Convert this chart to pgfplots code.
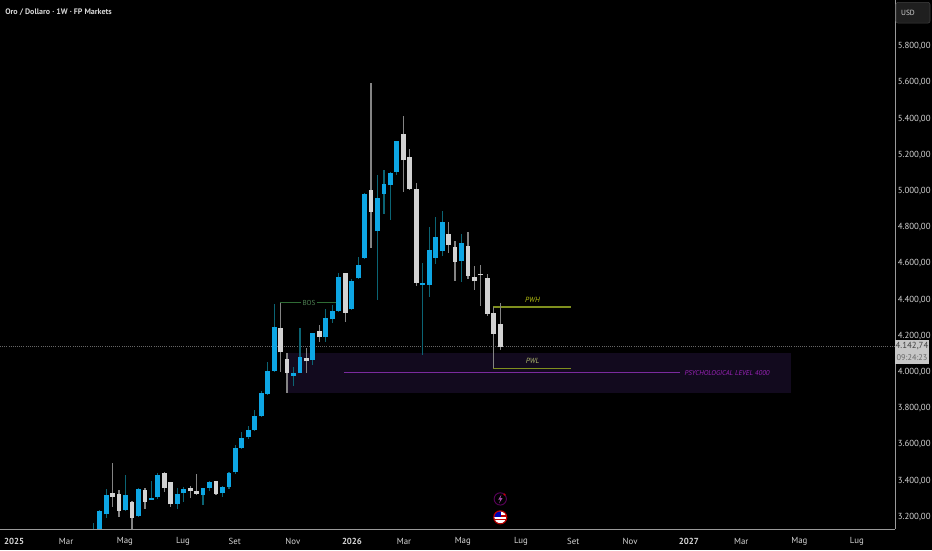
\documentclass[border=0pt]{standalone}
\usepackage{pgfplots}
\usepackage{pgfplotstable}
\usepackage{fontspec}
\setmainfont{PT Sans}
\pgfplotsset{compat=1.18}
\definecolor{candleblue}{HTML}{0DA6E4}
\definecolor{wickblue}{HTML}{0B6474}
\definecolor{candlewhite}{HTML}{D2D2D2}
\definecolor{wickwhite}{HTML}{848484}
\definecolor{boxpurple}{HTML}{120A1E}
\definecolor{linepurple}{HTML}{7A2A9E}
\definecolor{labelpurple}{HTML}{9A22B8}
\definecolor{olive}{HTML}{7F8F1E}
\definecolor{bosgreen}{HTML}{2F6B35}
\definecolor{axisgray}{HTML}{9A9A9A}
\definecolor{tickgray}{HTML}{D6D6D6}
% n low bot top high
\pgfplotstableread{
n low bot top high
-1 3050 3060 3090 3164
0 3090 3100 3234 3240
1 3191 3214 3320 3352
4 3234 3236 3320 3431
6 3201 3204 3352 3357
8 3293 3293 3306 3398
9 3296 3308 3429 3444
12 3243 3272 3328 3357
13 3280 3330 3352 3366
16 3267 3320 3357 3361
17 3344 3361 3394 3400
19 3311 3330 3366 3372
20 3352 3365 3444 3449
21 3435 3446 3580 3595
22 3578 3580 3637 3667
23 3628 3639 3679 3702
24 3678 3679 3755 3790
25 3753 3755 3882 3893
26 3878 3880 4007 4055
27 4005 4007 4249 4374
30 3924 3980 3996 4029
31 3996 3996 4081 4241
33 4037 4066 4214 4217
35 4168 4192 4297 4348
36 4269 4291 4337 4370
37 4333 4337 4527 4545
39 4343 4346 4505 4514
40 4516 4518 4593 4637
41 4628 4630 4985 4987
43 4398 4777 4963 5088
44 4873 4985 5039 5116
45 4840 5031 5101 5103
46 5088 5107 5276 5276
50 4094 4483 4494 4604
51 4416 4481 4672 4799
52 4597 4632 4744 4855
53 4643 4667 4827 4890
56 4499 4613 4711 4762
}\bluecandles
\pgfplotstableread{
n low bot top high
2 3256 3311 3330 3495
3 3197 3234 3326 3348
5 3130 3195 3280 3289
7 3243 3282 3348 3357
10 3339 3359 3440 3446
11 3256 3269 3390 3390
14 3306 3341 3359 3370
15 3320 3328 3344 3436
18 3326 3328 3396 3400
28 4002 4109 4241 4379
29 3882 3994 4074 4103
32 3994 4059 4075 4131
34 4164 4195 4225 4260
38 4274 4328 4545 4549
42 4683 4886 5004 5595
47 4996 5169 5313 5416
48 5006 5013 5186 5232
49 4477 4492 5009 5042
54 4656 4704 4761 4827
55 4505 4610 4691 4726
57 4514 4532 4694 4772
58 4453 4501 4527 4586
59 4365 4536 4541 4591
60 4311 4322 4518 4541
61 4020 4212 4324 4361
62 4122 4136 4267 4379
}\whitecandles
\newcommand{\wicks}[2]{%
\addplot[draw=none, no marks, forget plot, error bars/.cd, y dir=both, y explicit, error mark=none,
 error bar style={line width=0.9pt, draw=#2, solid}]
 table[x=n, y=bot, y error plus expr=\thisrow{high}-\thisrow{bot}, y error minus expr=\thisrow{bot}-\thisrow{low}] {#1};}
\newcommand{\bodies}[2]{%
\addplot[draw=none, no marks, forget plot, error bars/.cd, y dir=plus, y explicit, error mark=none,
 error bar style={line width=3.6pt, draw=#2, solid}]
 table[x=n, y=bot, y error plus expr=\thisrow{top}-\thisrow{bot}] {#1};}
\begin{document}
\begin{tikzpicture}
\useasboundingbox (0,0) rectangle (699pt,-412.5pt);
\fill[black] (0,0) rectangle (699pt,-412.5pt);
\begin{axis}[
  at={(0,0)}, anchor=north west,
  scale only axis, width=671.25pt, height=396.75pt,
  xmin=-15.43, xmax=123.1, ymin=3132.6, ymax=6055.3,
  axis x line*=bottom, axis y line*=right,
  axis line style={draw=axisgray, line width=0.75pt, -},
  major tick length=0pt, tick style={draw=none},
  ytick={3200,3400,3600,3800,4000,4200,4400,4600,4800,5000,5200,5400,5600,5800},
  yticklabels={3.200{,}00,3.400{,}00,3.600{,}00,3.800{,}00,4.000{,}00,4.200{,}00,4.400{,}00,4.600{,}00,4.800{,}00,5.000{,}00,5.200{,}00,5.400{,}00,5.600{,}00,5.800{,}00},
  yticklabel style={font=\fontsize{6.6}{8}\selectfont, text=tickgray, anchor=west, xshift=2pt, inner sep=0pt},
  xtick={-13.26,-5.2,3.9,12.9,20.9,29.9,39.05,47.1,56.2,65.2,73.3,82.1,91.2,99.3,108.3,117.2},
  xticklabels={\textbf{2025},Mar,Mag,Lug,Set,Nov,\textbf{2026},Mar,Mag,Lug,Set,Nov,\textbf{2027},Mar,Mag,Lug},
  xticklabel style={font=\fontsize{6.6}{8}\selectfont, text=tickgray, anchor=center, yshift=-9.5pt, inner sep=0pt},
  clip=true,
]
% zone
\addplot[fill=boxpurple, draw=none, forget plot] coordinates {(29,3884)(107,3884)(107,4105)(29,4105)} --cycle;
% last price
\addplot[densely dotted, draw=black!60!white, line width=0.6pt, forget plot] coordinates {(-15.43,4142.74)(123.1,4142.74)};
% psychological level
\addplot[draw=linepurple, line width=0.9pt, forget plot] coordinates {(37.8,3997)(89.8,3997)};
% BOS, PWH, PWL
\addplot[draw=bosgreen, line width=0.75pt, forget plot] coordinates {(27.9,4383)(31.2,4383)};
\addplot[draw=bosgreen, line width=0.75pt, forget plot] coordinates {(33.6,4383)(36.5,4383)};
\addplot[draw=olive, line width=0.8pt, forget plot] coordinates {(60.9,4359)(73,4359)};
\addplot[draw=olive, line width=0.8pt, forget plot] coordinates {(60.9,4020)(73,4020)};
\wicks{\bluecandles}{wickblue}
\wicks{\whitecandles}{wickwhite}
\bodies{\bluecandles}{candleblue}
\bodies{\whitecandles}{candlewhite}
\node[font=\fontsize{5.4}{6}\selectfont, text=bosgreen!85!white] at (axis cs:32.4,4383) {BOS};
\node[font=\itshape\fontsize{5.6}{6}\selectfont, text=olive!60!yellow] at (axis cs:67,4396) {PWH};
\node[font=\itshape\fontsize{5.6}{6}\selectfont, text=olive!65!white] at (axis cs:67,4059) {PWL};
\node[font=\itshape\fontsize{5.3}{7}\selectfont, text=labelpurple, anchor=west, inner sep=0pt] at (axis cs:90.5,3997) {PSYCHOLOGICAL LEVEL 4000};
\end{axis}
\draw[draw=axisgray, line width=0.75pt] (0,-396.75pt) -- (671.25pt,-396.75pt);
% header and price scale furniture
\node[anchor=west, inner sep=0pt, font=\fontsize{6}{8}\selectfont\bfseries, text=tickgray] at (3.75pt,-9pt) {Oro / Dollaro · 1W · FP Markets};
\fill[fill=black!88!white, draw=black!75!white, line width=0.4pt, rounded corners=1.5pt] (672pt,-1.8pt) rectangle (697.5pt,-17.3pt);
\node[inner sep=0pt, font=\fontsize{5.6}{7}\selectfont, text=tickgray] at (681pt,-9.9pt) {USD};
\fill[fill=black!22!white] (671.2pt,-255pt) rectangle (696.8pt,-273pt);
\node[inner sep=0pt, font=\fontsize{6.6}{8}\selectfont, text=black!75!white] at (684pt,-259.8pt) {4.142,74};
\node[inner sep=0pt, font=\fontsize{6.2}{8}\selectfont, text=black!60!white] at (684pt,-268.2pt) {09:24:23};
% event icons
\draw[draw=violet!70!black, line width=0.7pt] (375.2pt,-374.2pt) circle (4.6pt);
\fill[violet!70!white] (376pt,-371pt) -- (373.6pt,-374.8pt) -- (375.2pt,-374.8pt) -- (374.4pt,-377.4pt) -- (376.9pt,-373.6pt) -- (375.3pt,-373.6pt) -- cycle;
\fill[red!80!black] (378.4pt,-370.9pt) circle (0.9pt);
\fill[white] (375.2pt,-388pt) circle (4.6pt);
\begin{scope}
\clip (375.2pt,-388pt) circle (4.6pt);
\fill[red!75!black] (370pt,-390pt) rectangle (381pt,-388.9pt);
\fill[red!75!black] (370pt,-387.6pt) rectangle (381pt,-386.6pt);
\fill[blue!70!black] (370pt,-388pt) rectangle (376pt,-383pt);
\end{scope}
\draw[draw=red!75!black, line width=0.8pt] (375.2pt,-388pt) circle (4.9pt);
\end{tikzpicture}
\end{document}
